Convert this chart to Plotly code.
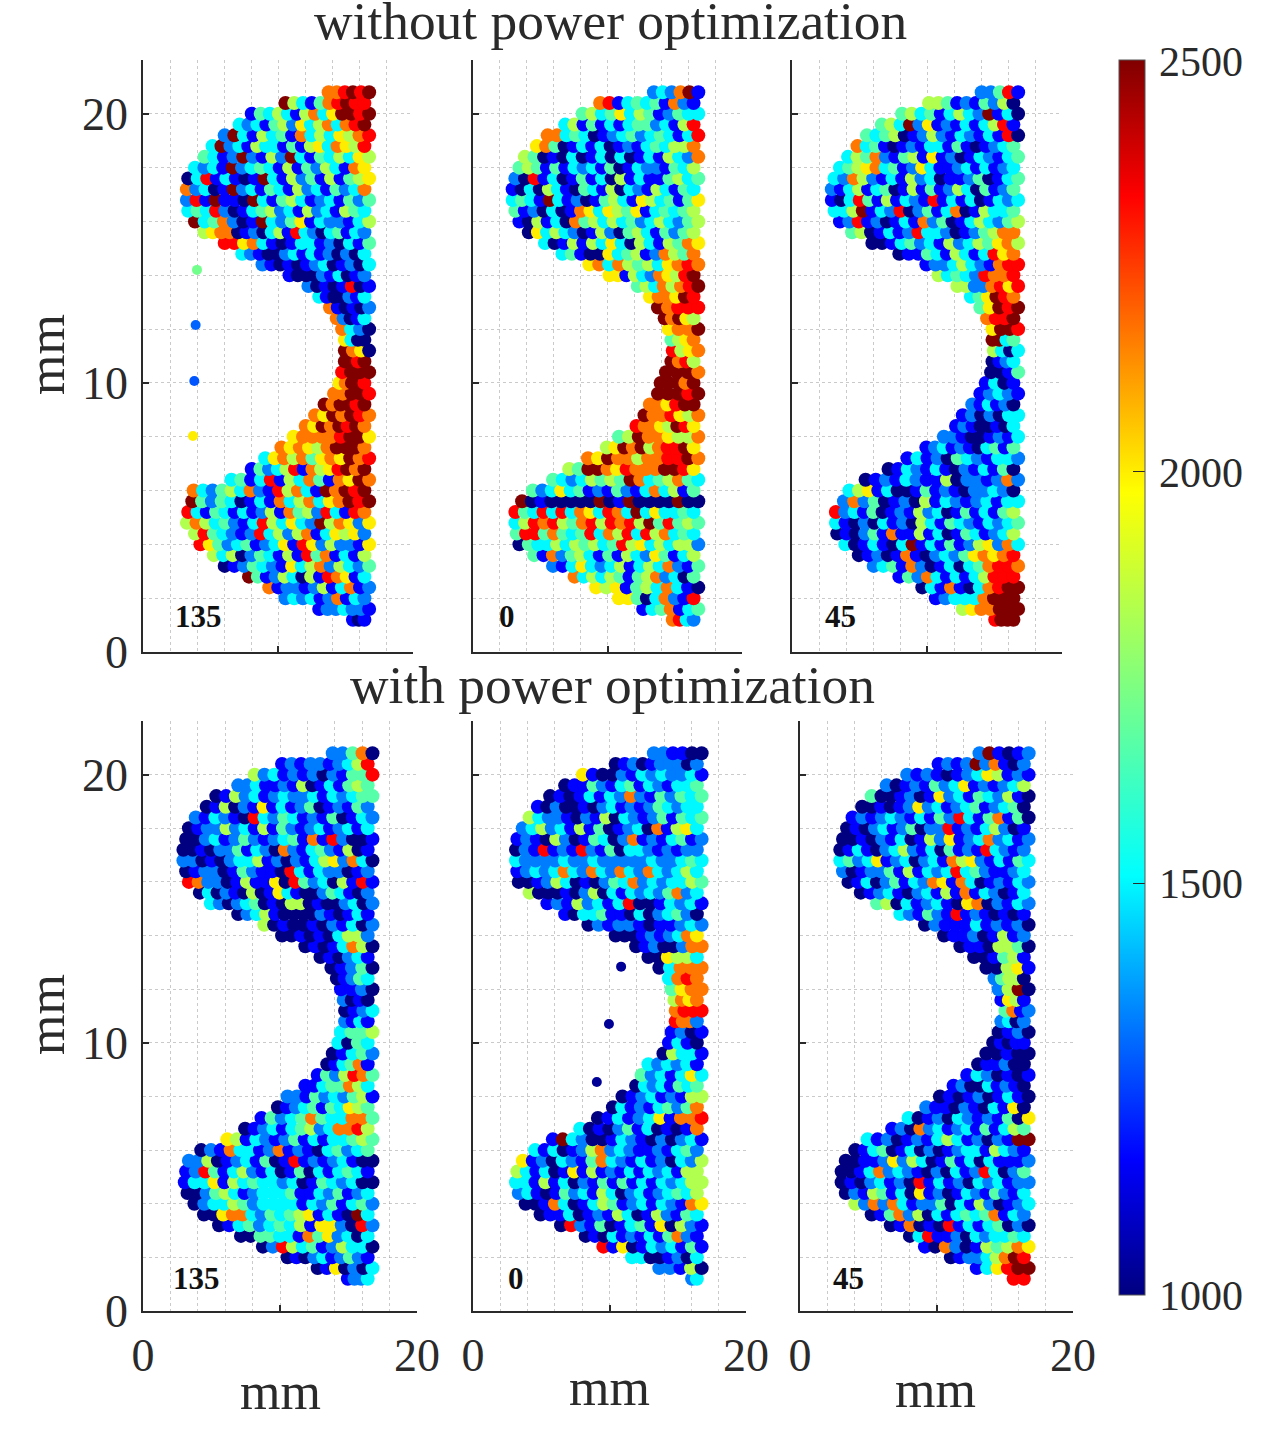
import numpy as np
import plotly.graph_objects as go

W, H = 1265, 1437

# rows of the scan, top to bottom (mm)
row_y = [20.8, 20.4, 20.0, 19.6, 19.2, 18.8, 18.4, 18.0, 17.6, 17.2,
         16.8, 16.4, 16.0, 15.6, 15.2, 14.8, 14.4, 14.0, 13.6, 13.2,
         12.8, 12.4, 12.0, 11.6, 11.2, 10.8, 10.4, 10.0, 9.6, 9.2,
         8.8, 8.4, 8.0, 7.6, 7.2, 6.8, 6.4, 6.0, 5.6, 5.2,
         4.8, 4.4, 4.0, 3.6, 3.2, 2.8, 2.4, 2.0, 1.6, 1.2]

# left edge of each row (mm)
left_a = [13.6, 10.4, 7.9, 7.0, 5.9, 5.0, 4.4, 3.7, 3.2, 3.1, 3.1, 3.2, 3.7, 4.4, 5.9, 7.2, 8.7, 10.7, 12.1, 12.9,
          13.7, 14.2, 14.6, 14.8, 14.8, 14.8, 14.6, 14.4, 14.0, 13.3, 12.6, 11.9, 11.0, 10.1, 8.9, 7.9, 6.4, 3.6, 3.5, 3.2,
          3.1, 3.7, 4.1, 5.1, 5.9, 7.7, 9.2, 10.4, 12.9, 15.4]
left_b = [13.3, 9.3, 8.0, 6.7, 5.4, 4.6, 3.7, 3.3, 3.0, 2.8, 2.8, 3.0, 3.3, 4.0, 5.2, 6.5, 8.5, 10.0, 12.1, 13.0,
          13.6, 14.1, 14.4, 14.6, 14.7, 14.6, 14.2, 13.8, 13.6, 13.0, 12.6, 12.0, 10.7, 9.8, 8.4, 7.0, 5.8, 4.3, 3.5, 3.0,
          3.0, 3.1, 3.3, 4.4, 5.8, 7.4, 9.0, 10.7, 12.5, 14.7]
left_c = [13.9, 10.0, 8.0, 6.5, 5.4, 4.7, 4.0, 3.4, 3.0, 2.8, 2.8, 3.0, 3.4, 4.3, 5.8, 7.8, 9.8, 10.7, 12.1, 13.1,
          13.8, 14.3, 14.7, 14.7, 14.8, 14.7, 14.6, 14.2, 13.8, 13.2, 12.5, 12.0, 11.1, 9.8, 8.4, 7.0, 5.3, 4.1, 3.7, 3.1,
          3.1, 3.2, 3.8, 4.8, 5.9, 7.8, 9.5, 10.5, 12.5, 14.9]
left_d = [13.7, 10.0, 8.0, 6.8, 5.2, 4.5, 3.7, 3.2, 3.0, 2.8, 2.8, 3.0, 3.2, 4.0, 4.8, 6.8, 8.7, 10.0, 11.7, 12.8,
          13.6, 14.0, 14.3, 14.5, 14.6, 14.6, 14.3, 14.1, 13.7, 13.3, 12.6, 11.7, 10.4, 9.7, 8.5, 7.3, 6.0, 4.1, 3.2, 3.0,
          2.9, 3.1, 3.6, 4.3, 5.4, 7.0, 8.6, 10.4, 12.6, 14.8]
left_e = [13.1, 10.3, 7.9, 6.6, 5.5, 4.6, 4.0, 3.5, 3.1, 3.0, 3.0, 3.1, 3.2, 4.0, 5.3, 6.6, 8.3, 10.3, 11.8, 12.7,
          13.5, 14.2, 14.4, 14.6, 14.7, 14.7, 14.4, 14.2, 13.8, 12.7, 12.2, 11.8, 10.8, 10.1, 9.0, 7.7, 5.7, 4.4, 3.5, 3.1,
          3.0, 3.2, 3.7, 4.8, 6.3, 8.1, 9.4, 11.5, 13.5, 15.9]
left_f = [13.0, 10.0, 7.7, 6.2, 5.1, 4.4, 3.7, 3.3, 3.0, 2.8, 2.8, 3.0, 3.4, 4.3, 5.5, 7.2, 9.0, 10.4, 11.6, 12.6,
          13.5, 14.1, 14.4, 14.6, 14.9, 14.6, 14.4, 14.0, 13.5, 12.9, 12.1, 11.1, 10.1, 9.1, 7.8, 6.6, 4.8, 3.9, 3.2, 2.9,
          2.9, 3.2, 3.9, 5.1, 6.5, 7.9, 9.0, 10.9, 12.8, 15.5]

# colour of each disc along a row, left to right: digit d means 1000 + d/9*1500
# top row of panels: without power optimization
top_135 = ["778989", "9531478988", "14353157369989", "323145263573789", "2931534173536578",
           "392315331415637658", "431292152931435365", "3231923431514253176", "03813101931524151456", "72301923143152314237",
           "28191109314531231424", "34382013452315231543", "9347201932461322135", "56770120351832034132", "8867310133120314",
           "321002313120203", "2101012301203", "1000213012", "20101801", "3100213",
           "710102", "72013", "7320", "6300", "9760",
           "9989", "8999", "67998", "77998", "979989",
           "7697987", "76979897", "677778996", "7676579997", "367574676978",
           "14235817568979", "341381537417697", "7324537218573197989", "9424301317357367989", "83143131251745283187",
           "57534213853632957626", "5843212835257136562", "8642341236186252216", "53502431518471315", "0124321635725324",
           "94125305187613", "712212513712", "2323127132", "1223221", "101"]
top_0 = ["232791", "78134341721", "4534635412433", "351413134423158", "77343012342343138",
         "674013130121343557", "5401030130301315327", "45414132314013221435", "20813014130513114534", "103053104315032153143",
         "343193120145316534146", "41203017636546134345", "10513074535342353245", "0635320152045314245", "30151536305315476",
         "341006345127547", "673754536787", "66153276589", "45375789", "677698",
         "97888", "97965", "6779", "4567", "8567",
         "9785", "9997", "99979", "99989", "776899",
         "9778657", "87765986", "459776557", "56979578896", "769775778897",
         "54997687779986", "4323545497345743", "423634121421373514", "9010000090190000900", "84383837638739363343",
         "35878547858785948454", "48847434837583857343", "04335354534856353552", "417245314153264135", "2136323513537214",
         "73535414572304", "65614537310", "664037218", "1347134", "7832"]
top_45 = ["22481", "5541214250", "4534135329130", "453926121313581", "43450125213213180",
          "734101213314101234", "3547214516120132134", "34567341263112313123", "32752131523011240134", "213513401514125304124",
          "103841513218131301323", "33591328024137015334", "12812013172401353245", "450131283320124577", "0013423152354675",
          "0114315313867", "12235321788", "534328778", "55227868", "346987",
          "46989", "7889", "6998", "9934", "5303",
          "0123", "0014", "1301", "12321", "213120",
          "1202033", "12100103", "221001213", "12312103414", "131204321332",
          "01321310213140", "0121321150221272", "356130014121022320", "272401205132123133", "82314012152301413145",
          "31020312053143213234", "01024171151301431235", "3013103913141256273", "01201710232467678", "2341720130347887",
          "1427313135888", "03171037899", "123337999", "5677999", "8999"]
# bottom row of panels: with power optimization
bot_135 = ["22470", "1212212358", "5231212021448", "223112150131454", "01523123223132344",
           "015021613124012142", "2132108324312140132", "01225231514212312313", "00231242123417182001", "001022413207213421501",
           "220102335120213562730", "01220142110831322012", "87220151160842305181", "03021050163100243102", "3202340105501002302",
           "023510000210131", "501001021302", "0010103552", "01013750", "010231",
           "01240", "01243", "1120", "2010", "0123",
           "2131", "3445", "3043", "01342", "013471",
           "1425874", "11344753", "2214232451", "01234143654", "142347433774",
           "01231345237785", "6513212413133454", "021733127121034234", "22501231401812123100", "12841352130140313431",
           "13361534332301432300", "00245312333411324123", "0233542333313241342", "006773243456131093", "0134234351662082",
           "00443317462303", "028534125330", "0102312421", "0160203", "1223"]
bot_0 = ["221100", "0120122202", "6100213232231", "011421341321334", "0101313272142434",
         "102001023121243233", "5322102150321241434", "2352315140123071563", "12105201430271213412", "02181218214033212122",
         "32222322322222322343", "12323732732732732353", "00125301024372323354", "5000102503132324723", "1215231380013231",
         "103341103023420", "021221011232", "0001212376", "01200277", "006553",
         "03777", "3787", "4677", "5767", "7888",
         "8772", "1201", "1310", "05331", "323231",
         "4231363", "03231434", "012312155", "0312134247", "01312361778",
         "3010241301017", "1932001321020231", "313012572321121342", "6120321473213120325", "53130161512131323155",
         "33151302141413132355", "23101423153023123435", "0017301354123132176", "01130121530152143", "082140134160521",
         "0103121314721", "81601323141", "33001203", "22150", "23"]
bot_45 = ["291012", "1212927102", "2121012365121", "201214236121235", "40012016231432510",
          "001012623123412340", "1212321314283147140", "01023124022812135201", "00102130152612372312", "013102352130412183212",
          "342361230231756213143", "20122415132383421123", "01302413276173012132", "012310231517132013", "4503123106702132",
          "32142181210101", "02111312120", "011201512", "01105540", "001451",
          "00561", "24550", "2590", "1651", "4712",
          "2302", "0120", "01011", "00100", "011200",
          "1320101", "120031210", "0101201310", "21102103160", "3012032121406",
          "120723123141354", "31201213531202199", "0134013020123315321", "00112625301413031112", "00137232102031283024",
          "01023120813120323122", "02154130612013214213", "5272731224031520123", "01472503134347132", "017010813134020",
          "0381120323343", "10720154576", "012235798", "136899", "88"]

# stray points away from the body
stray_a_x = [4.0, 3.9, 3.8, 3.7]
stray_a_y = [14.2, 12.15, 10.07, 8.03]
stray_a_v = [1720, 1300, 1280, 2000]
stray_e_x = [10.85, 9.96, 9.07]
stray_e_y = [12.84, 10.7, 8.54]
stray_e_v = [1030, 1030, 1030]

panel_labels = ["135", "0", "45", "135", "0", "45"]
colorbar_ticks = [1000, 1500, 2000, 2500]

jet = [[0, "rgb(0,0,128)"], [0.11, "rgb(0,0,255)"], [0.34, "rgb(0,255,255)"],
       [0.65, "rgb(255,255,0)"], [0.89, "rgb(255,0,0)"], [1, "rgb(128,0,0)"]]

# pixel boxes of the panels: left, right, top, bottom
boxes = [(143, 413, 60, 652), (473, 742, 60, 652), (792, 1062, 60, 652),
         (143, 417, 721, 1311), (473, 746, 721, 1311), (800, 1073, 721, 1311)]
FONT = "Liberation Serif"
INK = "#2a2a2a"
GRID = "rgba(150,150,150,0.5)"


def build_points(rows, lefts):
    xs, ys, vs = [], [], []
    # bottom rows first, upper rows are painted over them
    for i in range(len(row_y) - 1, -1, -1):
        right = 16.75 if i % 2 == 0 else 16.4
        px = np.linspace(lefts[i] + 0.15, right, len(rows[i]))
        for k, ch in enumerate(rows[i]):
            xs.append(float(px[k]))
            ys.append(row_y[i])
            vs.append(1000 + int(ch) / 9 * 1500)
    return xs, ys, vs


panels = [(top_135, left_a), (top_0, left_b), (top_45, left_c),
          (bot_135, left_d), (bot_0, left_e), (bot_45, left_f)]

fig = go.Figure()
layout_axes = {}
for n, (rows, lefts) in enumerate(panels):
    suffix = "" if n == 0 else str(n + 1)
    xs, ys, vs = build_points(rows, lefts)
    sizes = [14] * len(xs)
    if n == 0:
        sizes = [10] * len(stray_a_x) + sizes
        xs, ys, vs = stray_a_x + xs, stray_a_y + ys, stray_a_v + vs
    if n == 4:
        sizes = [10] * len(stray_e_x) + sizes
        xs, ys, vs = stray_e_x + xs, stray_e_y + ys, stray_e_v + vs
    fig.add_trace(go.Scatter(x=xs, y=ys, mode="markers", xaxis="x" + suffix, yaxis="y" + suffix,
                             marker=dict(size=sizes, opacity=1, color=vs, coloraxis="coloraxis", line=dict(width=0)),
                             showlegend=False, hoverinfo="skip"))
    l, r, t, b = boxes[n]
    on_bottom = n >= 3
    on_left = n % 3 == 0
    layout_axes["xaxis" + suffix] = dict(
        domain=[l / W, r / W], range=[0, 20], anchor="y" + suffix,
        tickvals=[0, 10, 20], ticktext=["0", "", "20"] if on_bottom else ["", "", ""],
        ticks="inside", ticklen=6, tickwidth=1.5, tickcolor=INK, ticklabelstandoff=3,
        tickfont=dict(family=FONT, size=46, color=INK), tickangle=0,
        showline=True, linecolor=INK, linewidth=1.5, zeroline=False,
        showgrid=False,
        minor=dict(tickvals=list(range(2, 21, 2)), showgrid=True, gridcolor=GRID, griddash="dot", gridwidth=1, ticks=""))
    layout_axes["yaxis" + suffix] = dict(
        domain=[1 - b / H, 1 - t / H], range=[0, 22], anchor="x" + suffix,
        tickvals=[0, 10, 20], ticktext=["0", "10", "20"] if on_left else ["", "", ""],
        ticks="inside", ticklen=6, tickwidth=1.5, tickcolor=INK, ticklabelstandoff=4,
        tickfont=dict(family=FONT, size=46, color=INK),
        showline=True, linecolor=INK, linewidth=1.5, zeroline=False,
        showgrid=False,
        minor=dict(tickvals=list(range(2, 23, 2)), showgrid=True, gridcolor=GRID, griddash="dot", gridwidth=1, ticks=""))


def add_text(px, py, text, size, bold=False, angle=0):
    fig.add_annotation(x=px / W, y=1 - py / H, xref="paper", yref="paper", text=f"<b>{text}</b>" if bold else text,
                       showarrow=False, textangle=angle, xanchor="center", yanchor="middle",
                       font=dict(family=FONT, size=size, color="#111111" if bold else INK))


add_text(610, 21, "without power optimization", 53.4)
add_text(612, 685, "with power optimization", 53.4)
add_text(280, 1391, "mm", 52)
add_text(609, 1387, "mm", 52)
add_text(936, 1389, "mm", 52)
add_text(46, 355, "mm", 52, angle=-90)
add_text(46, 1015, "mm", 52, angle=-90)
label_pos = [(198, 616), (507, 616), (840, 616), (196, 1278), (516, 1278), (848, 1278)]
for (px, py), lab in zip(label_pos, panel_labels):
    add_text(px, py, lab, 31, bold=True)
# colorbar labels sit further from the bar than plotly puts them
for tick, py in zip(colorbar_ticks, [1296, 884, 473, 62]):
    add_text(1201, py, str(tick), 42)

fig.update_layout(
    width=W, height=H, paper_bgcolor="white", plot_bgcolor="white",
    margin=dict(l=0, r=0, t=0, b=0, autoexpand=False),
    coloraxis=dict(cmin=1000, cmax=2500, colorscale=jet, colorbar=dict(
        x=1119 / W, xanchor="left", y=1 - 60 / H, yanchor="top", lenmode="pixels", len=1235,
        thicknessmode="pixels", thickness=26, xpad=0, ypad=0,
        tickvals=colorbar_ticks, ticks="inside", ticklen=12, tickcolor=INK, showticklabels=False,
        outlinewidth=1, outlinecolor="#555555")),
    **layout_axes)

fig.write_html("out.html", post_script="document.body.style.margin='0';", config=dict(displayModeBar=False))
